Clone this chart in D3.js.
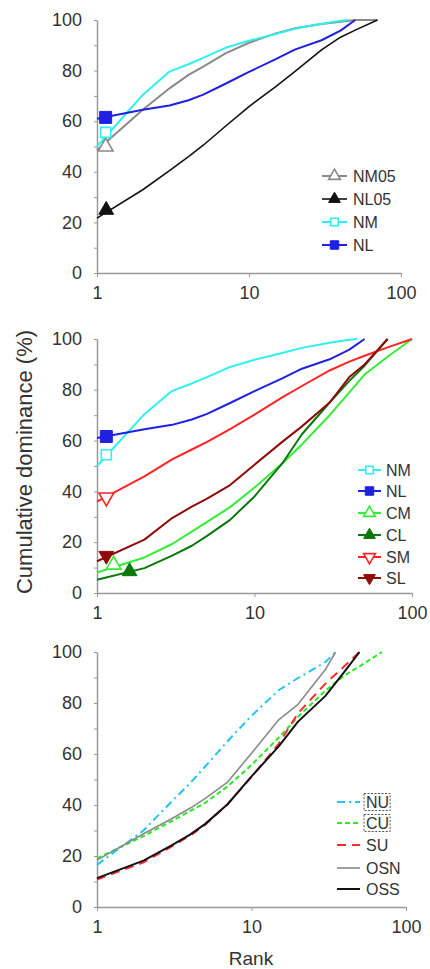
<!DOCTYPE html>
<html>
<head>
<meta charset="utf-8">
<script src="https://cdn.jsdelivr.net/npm/d3@7"></script>
<style>
  body { margin: 0; background: #fff; }
  svg text { font-family: "Liberation Sans", Arial, sans-serif; fill: #333; }
</style>
</head>
<body>
<svg id="chart" width="430" height="969"></svg>
<script>
// ----------------------
// 1. Data: [rank, cumulative dominance %]
// ----------------------
const NM05 = [[1,48.5],[2,64.5],[3,73],[4,78.3],[5,81.6],[7,86.8],[10,91],[15,94.7],[20,96.7],[30,98.4],[40,99.3],[50,100],[70,100]];
const NL05 = [[1,21.7],[2,32.9],[3,40.5],[4,46],[5,50.5],[7,58],[10,65.8],[15,73.7],[20,79.6],[30,88.2],[40,93.2],[50,96],[70,100]];
const NM   = [[1,50],[2,70.4],[3,79.6],[4,82.5],[5,85],[7,89],[10,91.8],[15,94.5],[20,96.5],[30,98.5],[40,99.7],[45,100]];
const NL   = [[1,61],[2,64.5],[3,66.2],[4,68.3],[5,70.5],[7,74.8],[10,79.5],[15,84.5],[20,88.3],[30,92],[40,95.8],[50,100]];
const CM   = [[1,8.1],[2,14],[3,19.3],[4,24.2],[5,28],[7,33.8],[10,41.5],[15,51],[20,58.5],[30,70],[40,79],[50,86],[70,93],[100,100]];
const CL   = [[1,5.2],[2,9.8],[3,14.7],[4,18.6],[5,22.5],[7,28.8],[10,38],[15,51],[20,62.5],[30,75],[40,83.5],[50,89.5],[70,100]];
const SM   = [[1,36],[2,45.9],[3,52.6],[4,56.5],[5,59.5],[7,64.5],[10,70.2],[15,77],[20,81.5],[30,87.6],[40,91.1],[50,93.4],[70,96.7],[100,100]];
const SL   = [[1,12.5],[2,21],[3,29.5],[4,34],[5,37.2],[7,42.5],[10,50.5],[15,59.5],[20,65.6],[30,75],[40,85],[50,90],[70,100]];
const NU   = [[1,16.5],[2,30],[3,41],[4,48.5],[5,55],[7,65],[10,75],[15,85],[20,89.8],[30,96],[35,100]];
const CU   = [[1,19.1],[2,27.8],[3,33.5],[4,37.6],[5,40.8],[7,47.3],[10,55.7],[15,66.4],[20,74.6],[30,84.8],[40,90.8],[50,94.4],[70,100]];
const SU   = [[1,10.8],[2,17.5],[3,23.5],[4,28],[5,32.2],[7,40.3],[10,51],[15,64],[20,76],[30,87.5],[40,94.5],[50,100]];
const OSN  = [[1,18.4],[2,28.7],[3,34.4],[4,38.7],[5,42.5],[7,49],[10,60.3],[15,73.4],[20,79.5],[30,93],[35,100]];
const OSS  = [[1,11.3],[2,18.2],[3,24],[4,28.4],[5,32.5],[7,40.3],[10,51.2],[15,63],[20,72.7],[30,82.7],[40,92.3],[50,100]];

// single markers drawn on the curves (rank, value)
const markP1 = { NM05: [1.14, 49.9], NL05: [1.15, 24.9], NM: [1.14, 55.6], NL: [1.14, 61.5] };
const markP2 = { NM: [1.146, 54.4], NL: [1.146, 61.6], CM: [1.275, 11.1], CL: [1.61, 8.5], SM: [1.146, 37.7], SL: [1.146, 14.7] };

const yTicks = [0, 10, 20, 30, 40, 50, 60, 70, 80, 90, 100];
const xTicks = [1, 10, 100];

// ----------------------
// 2. Styles
// ----------------------
const style = {
  NM05: { color: "#8a8a8a", width: 2,   sym: "tri",  fill: false },
  NL05: { color: "#111",    width: 1.6, sym: "tri",  fill: true },
  NM:   { color: "#2ff0f0", width: 2,   sym: "sq",   fill: false },
  NL:   { color: "#2020e0", width: 2,   sym: "sq",   fill: true },
  CM:   { color: "#33ee33", width: 2,   sym: "tri",  fill: false },
  CL:   { color: "#0a780a", width: 2,   sym: "tri",  fill: true },
  SM:   { color: "#ff2424", width: 2,   sym: "down", fill: false },
  SL:   { color: "#900a0a", width: 2,   sym: "down", fill: true },
  NU:   { color: "#22c4f0", width: 2,   dash: "8,4,2,4" },
  CU:   { color: "#22ee22", width: 2,   dash: "5,3" },
  SU:   { color: "#ff2a2a", width: 2,   dash: "9,6" },
  OSN:  { color: "#8a8a8a", width: 1.6 },
  OSS:  { color: "#111",    width: 2 }
};
const dataByName = { NM05, NL05, NM, NL, CM, CL, SM, SL, NU, CU, SU, OSN, OSS };

const panels = [
  { left: 97, right: 401, top: 20,  bottom: 273, names: ["NM05", "NL05", "NM", "NL"], marks: markP1,
    legend: { x1: 322, x2: 347, tx: 353, ys: [176, 199, 222, 245] } },
  { left: 97, right: 412, top: 339, bottom: 593, names: ["NM", "NL", "CM", "CL", "SM", "SL"], marks: markP2,
    legend: { x1: 358, x2: 381, tx: 386, ys: [470, 491, 513, 535, 557, 578] } },
  { left: 97, right: 406, top: 652, bottom: 907, names: ["NU", "CU", "SU", "OSN", "OSS"], marks: {},
    legend: { x1: 337, x2: 360, tx: 366, ys: [802, 823, 845, 868, 889] }, boxed: ["NU", "CU"] }
];

const svg = d3.select("#chart");

function symbolPath(sym, size) {
  const type = sym === "sq" ? d3.symbolSquare : d3.symbolTriangle;
  return d3.symbol().type(type).size(size)();
}

function drawMarker(g, name, cx, cy, big) {
  const s = style[name];
  const filled = s.fill;
  let size;
  if (s.sym === "sq") size = big ? (filled ? 144 : 100) : (filled ? 72 : 56);
  else size = big ? 95 : 60;
  g.append("path")
    .attr("d", symbolPath(s.sym, size))
    .attr("transform", `translate(${cx},${cy})` + (s.sym === "down" ? " rotate(180)" : ""))
    .attr("fill", filled ? s.color : "#fff")
    .attr("stroke", s.color)
    .attr("stroke-width", filled ? 1 : 1.6);
}

// ----------------------
// 3. Draw panels
// ----------------------
panels.forEach(p => {
  const x = d3.scaleLog().domain([1, 100]).range([p.left, p.right]);
  const y = d3.scaleLinear().domain([0, 100]).range([p.bottom, p.top]);
  const g = svg.append("g");

  // axes
  const yAxisG = g.append("g")
    .attr("transform", `translate(${p.left},0)`)
    .call(d3.axisLeft(y).tickValues(yTicks).tickSize(3).tickSizeOuter(0).tickPadding(12)
      .tickFormat(d => d % 20 === 0 ? d : ""));
  const xAxisG = g.append("g")
    .attr("transform", `translate(0,${p.bottom})`)
    .call(d3.axisBottom(x).tickValues(xTicks).tickSize(4).tickSizeOuter(0).tickPadding(9)
      .tickFormat(d3.format("d")));
  [yAxisG, xAxisG].forEach(a => {
    a.select(".domain").attr("stroke", "#999").attr("stroke-width", 1.5);
    a.selectAll(".tick line").attr("stroke", "#999");
    a.selectAll(".tick text").attr("font-size", 18).attr("fill", "#333");
  });

  // lines
  const lineGen = d3.line().x(d => x(d[0])).y(d => y(d[1]));
  p.names.forEach(name => {
    const s = style[name];
    g.append("path")
      .datum(dataByName[name])
      .attr("fill", "none")
      .attr("stroke", s.color)
      .attr("stroke-width", s.width)
      .attr("stroke-dasharray", s.dash || null)
      .attr("stroke-linejoin", "round")
      .attr("d", lineGen);
  });

  // markers on curves
  p.names.forEach(name => {
    const m = p.marks[name];
    if (m) drawMarker(g, name, x(m[0]), y(m[1]), true);
  });

  // legend
  const L = p.legend;
  p.names.forEach((name, i) => {
    const s = style[name];
    const ly = L.ys[i];
    g.append("line")
      .attr("x1", L.x1).attr("x2", L.x2).attr("y1", ly).attr("y2", ly)
      .attr("stroke", s.color).attr("stroke-width", s.width)
      .attr("stroke-dasharray", s.dash || null);
    if (s.sym) drawMarker(g, name, (L.x1 + L.x2) / 2, ly, false);
    const t = g.append("text")
      .attr("x", L.tx).attr("y", ly)
      .attr("dominant-baseline", "central")
      .attr("font-size", 16)
      .text(name);
    if (p.boxed && p.boxed.includes(name)) {
      const bb = t.node().getBBox();
      g.append("rect")
        .attr("x", bb.x - 2).attr("y", bb.y)
        .attr("width", bb.width + 3).attr("height", bb.height)
        .attr("fill", "none").attr("stroke", "#555")
        .attr("stroke-width", 1).attr("stroke-dasharray", "2,1.5");
    }
  });
});

// axis titles
svg.append("text")
  .attr("transform", "translate(32,462) rotate(-90)")
  .attr("text-anchor", "middle")
  .attr("font-size", 22)
  .text("Cumulative dominance (%)");

svg.append("text")
  .attr("x", 251).attr("y", 965)
  .attr("text-anchor", "middle")
  .attr("font-size", 19)
  .text("Rank");
</script>
</body>
</html>
